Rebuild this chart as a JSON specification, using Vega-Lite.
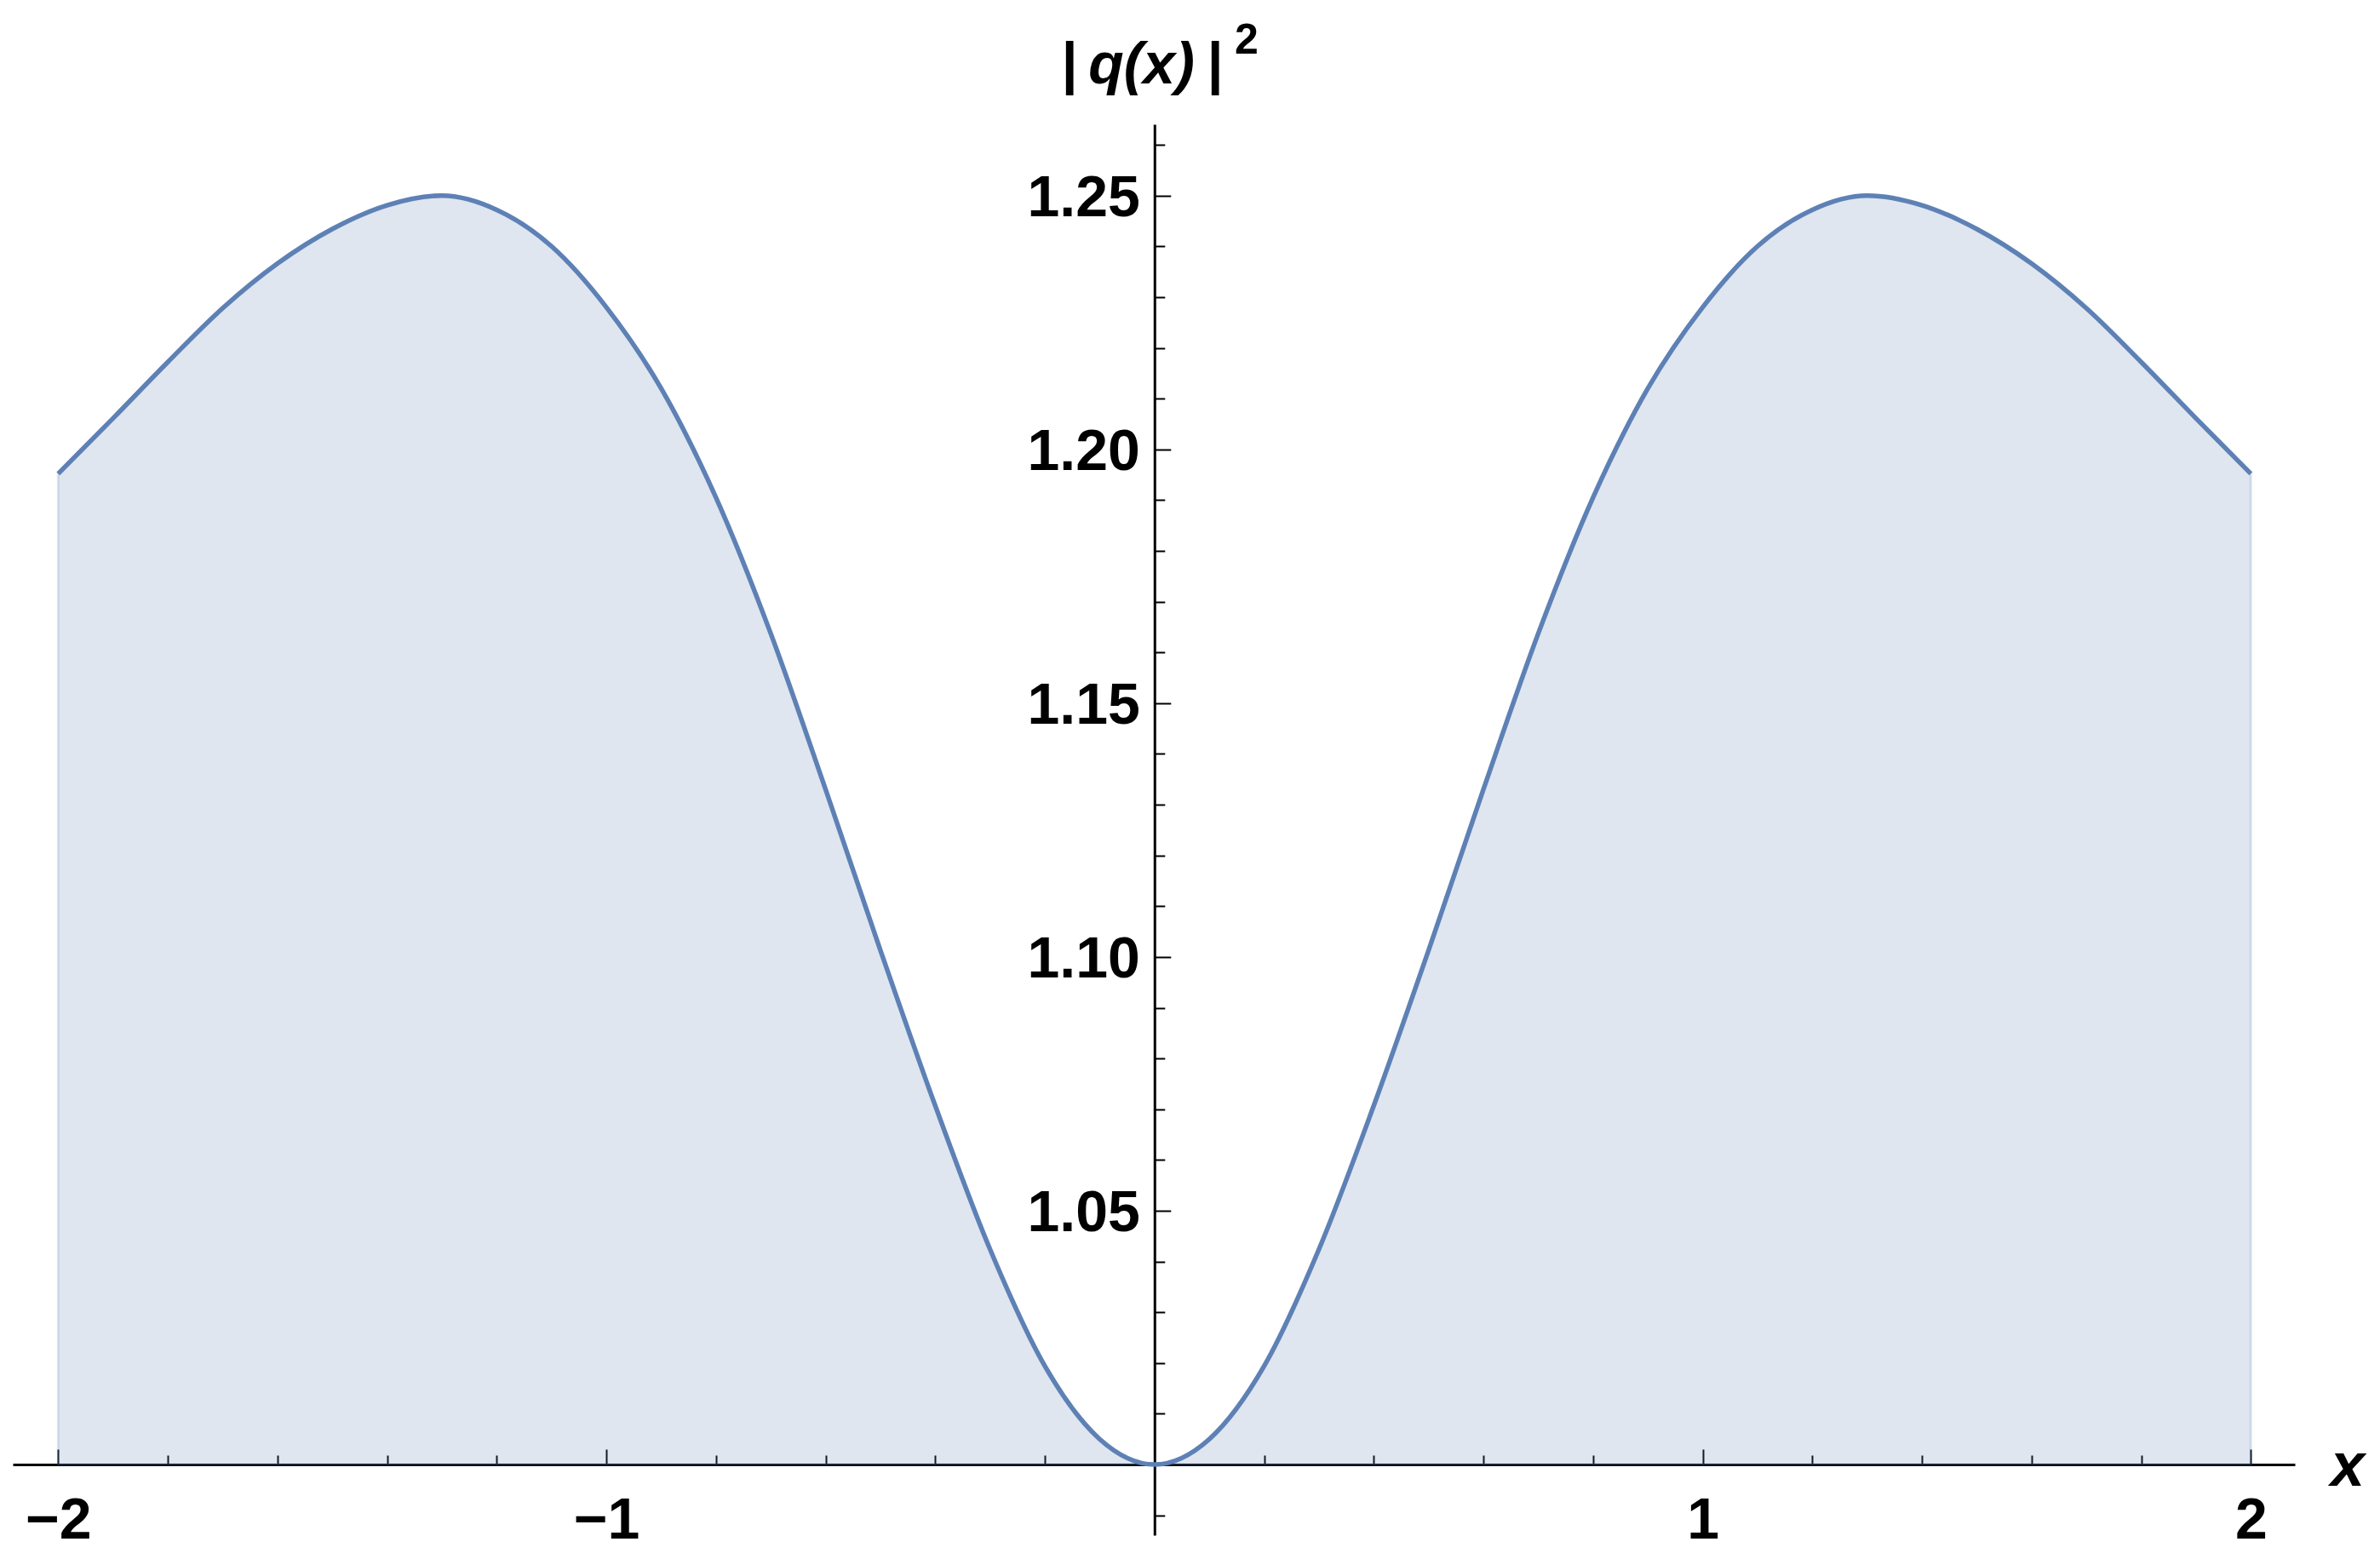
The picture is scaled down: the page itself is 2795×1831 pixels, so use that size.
{
  "$schema": "https://vega.github.io/schema/vega-lite/v6.json",
  "width": 2680,
  "height": 1657,
  "autosize": {"type": "none"},
  "padding": {"left": 15, "top": 146, "right": 100, "bottom": 28},
  "background": "white",
  "config": {
    "view": {"stroke": null},
    "axis": {
      "grid": false,
      "labelFlush": false,
      "labelOverlap": false,
      "labelBound": false,
      "domainColor": "black",
      "tickColor": "black",
      "labelColor": "black",
      "titleColor": "black",
      "labelFont": "Liberation Sans",
      "titleFont": "Liberation Sans"
    }
  },
  "datasets": {
    "curve": [
      {"x": -2.0, "y": 1.1952},
      {"x": -1.9, "y": 1.2061},
      {"x": -1.8, "y": 1.2172},
      {"x": -1.7, "y": 1.2278},
      {"x": -1.6, "y": 1.2366},
      {"x": -1.5, "y": 1.2434},
      {"x": -1.4, "y": 1.2481},
      {"x": -1.3, "y": 1.25},
      {"x": -1.2, "y": 1.2472},
      {"x": -1.1, "y": 1.24},
      {"x": -1.0, "y": 1.228},
      {"x": -0.9, "y": 1.212},
      {"x": -0.8, "y": 1.1905},
      {"x": -0.7, "y": 1.1637},
      {"x": -0.6, "y": 1.133},
      {"x": -0.5, "y": 1.1013},
      {"x": -0.4, "y": 1.0707},
      {"x": -0.3, "y": 1.0424},
      {"x": -0.2, "y": 1.0194},
      {"x": -0.1, "y": 1.005},
      {"x": 0.0, "y": 1.0},
      {"x": 0.1, "y": 1.005},
      {"x": 0.2, "y": 1.0194},
      {"x": 0.3, "y": 1.0424},
      {"x": 0.4, "y": 1.0707},
      {"x": 0.5, "y": 1.1013},
      {"x": 0.6, "y": 1.133},
      {"x": 0.7, "y": 1.1637},
      {"x": 0.8, "y": 1.1905},
      {"x": 0.9, "y": 1.212},
      {"x": 1.0, "y": 1.228},
      {"x": 1.1, "y": 1.24},
      {"x": 1.2, "y": 1.2472},
      {"x": 1.3, "y": 1.25},
      {"x": 1.4, "y": 1.2481},
      {"x": 1.5, "y": 1.2434},
      {"x": 1.6, "y": 1.2366},
      {"x": 1.7, "y": 1.2278},
      {"x": 1.8, "y": 1.2172},
      {"x": 1.9, "y": 1.2061},
      {"x": 2.0, "y": 1.1952}
    ]
  },
  "data": {"name": "curve"},
  "resolve": {"axis": {"x": "independent", "y": "independent"}},
  "layer": [
    {
      "mark": {"type": "area", "interpolate": "monotone", "color": "#5e81b5", "fillOpacity": 0.2, "stroke": "#5e81b5", "strokeOpacity": 0.2, "strokeWidth": 3, "clip": true},
      "encoding": {
        "x": {
          "field": "x", "type": "quantitative",
          "scale": {"domain": [-2.0828, 2.0803], "nice": false, "zero": false},
          "axis": {
            "orient": "bottom", "offset": -83, "values": [-2, -1, 1, 2], "format": "d",
            "tickSize": -18, "tickWidth": 2, "domainWidth": 3,
            "labelFontSize": 68, "labelFontWeight": "bold", "labelPadding": 50,
            "labelBaseline": "top", "labelAlign": "center",
            "title": "x", "titleFontSize": 72, "titleFontWeight": "bold", "titleFontStyle": "italic",
            "titleX": 2741.5, "titleY": 2, "titleAlign": "center", "titleBaseline": "middle", "titleAngle": 0
          }
        },
        "y": {
          "field": "y", "type": "quantitative",
          "scale": {"domain": [0.98608, 1.26404], "nice": false, "zero": false},
          "axis": {
            "orient": "left", "offset": -1340.8, "values": [1.05, 1.1, 1.15, 1.2, 1.25], "format": ".2f",
            "tickSize": -19, "tickWidth": 2, "domainWidth": 3,
            "labelFontSize": 68, "labelFontWeight": "bold", "labelPadding": 36.5,
            "labelAlign": "right", "labelBaseline": "middle", "labelOffset": 4,
            "title": "|\u2009q(x)\u2009|", "titleFontSize": 68, "titleFontWeight": "bold", "titleFontStyle": "italic",
            "titleAngle": 0, "titleX": -15.8, "titleY": -48.5, "titleAlign": "center", "titleBaseline": "alphabetic"
          }
        },
        "y2": {"datum": 1}
      }
    },
    {
      "mark": {"type": "line", "interpolate": "monotone", "color": "#5e81b5", "strokeWidth": 5.5, "clip": true},
      "encoding": {
        "x": {
          "field": "x", "type": "quantitative",
          "axis": {
            "orient": "bottom", "offset": -83,
            "values": [-1.8, -1.6, -1.4, -1.2, -0.8, -0.6, -0.4, -0.2, 0.2, 0.4, 0.6, 0.8, 1.2, 1.4, 1.6, 1.8],
            "tickSize": -11, "tickWidth": 2, "domain": false, "labels": false, "title": null
          }
        },
        "y": {
          "field": "y", "type": "quantitative",
          "axis": {
            "orient": "left", "offset": -1340.8,
            "values": [0.99, 1.01, 1.02, 1.03, 1.04, 1.06, 1.07, 1.08, 1.09, 1.11, 1.12, 1.13, 1.14, 1.16, 1.17, 1.18, 1.19, 1.21, 1.22, 1.23, 1.24, 1.26],
            "tickSize": -12, "tickWidth": 2, "domain": false, "labels": false,
            "title": "2", "titleFontSize": 50, "titleFontWeight": "bold", "titleAngle": 0,
            "titleX": 107.5, "titleY": -83.3, "titleAlign": "center", "titleBaseline": "alphabetic"
          }
        }
      }
    }
  ]
}
